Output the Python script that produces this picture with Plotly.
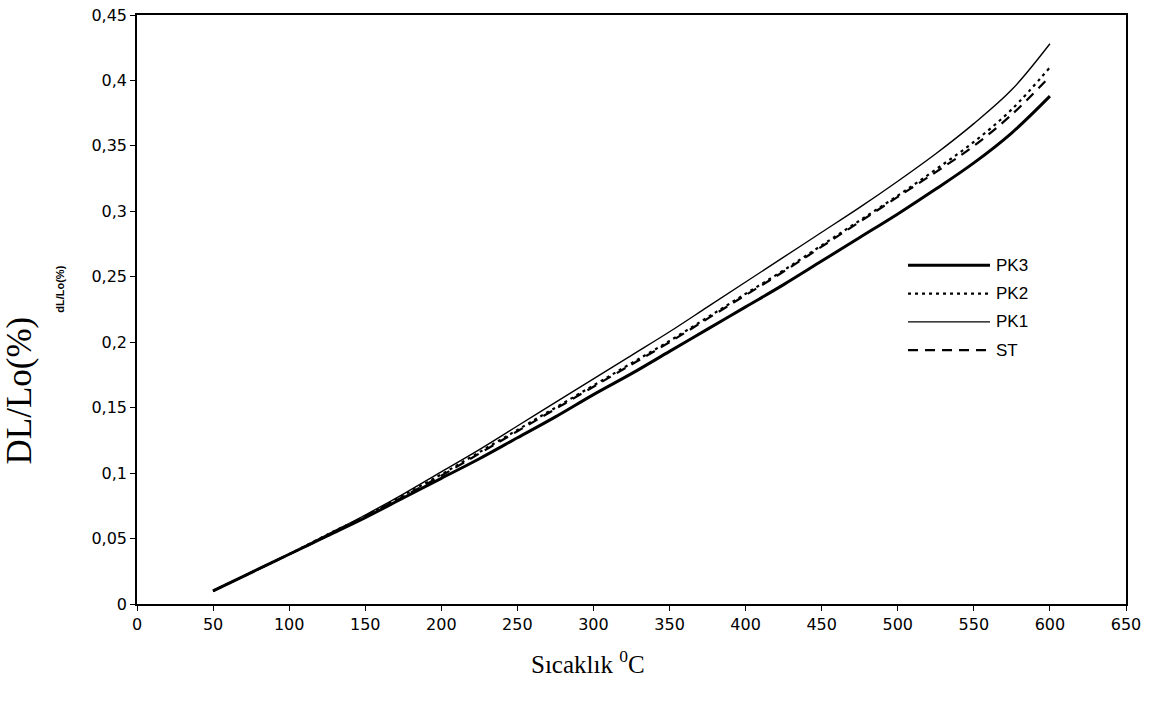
import plotly.graph_objects as go

temperature = [50, 75, 100, 125, 150, 175, 200, 225, 250, 275, 300, 325, 350,
               375, 400, 425, 450, 475, 500, 525, 550, 575, 600]

pk3 = [0.010, 0.024, 0.038, 0.052, 0.066, 0.081, 0.096, 0.111, 0.127, 0.143,
       0.160, 0.176, 0.193, 0.210, 0.227, 0.244, 0.262, 0.280, 0.298, 0.317,
       0.337, 0.360, 0.388]
pk2 = [0.010, 0.024, 0.038, 0.053, 0.067, 0.083, 0.099, 0.116, 0.133, 0.150,
       0.167, 0.184, 0.201, 0.219, 0.237, 0.255, 0.274, 0.293, 0.312, 0.332,
       0.353, 0.378, 0.410]
pk1 = [0.010, 0.024, 0.038, 0.053, 0.068, 0.084, 0.101, 0.118, 0.136, 0.154,
       0.172, 0.190, 0.208, 0.227, 0.246, 0.265, 0.284, 0.303, 0.323, 0.344,
       0.367, 0.393, 0.428]
st = [0.010, 0.024, 0.038, 0.052, 0.067, 0.082, 0.098, 0.115, 0.132, 0.149,
      0.166, 0.183, 0.200, 0.218, 0.236, 0.254, 0.273, 0.292, 0.311, 0.330,
      0.350, 0.374, 0.403]

series_names = ["PK3", "PK2", "PK1", "ST"]
x_ticks = [0, 50, 100, 150, 200, 250, 300, 350, 400, 450, 500, 550, 600, 650]
y_ticks = [0, 0.05, 0.1, 0.15, 0.2, 0.25, 0.3, 0.35, 0.4, 0.45]
y_tick_text = ["0", "0,05", "0,1", "0,15", "0,2", "0,25", "0,3", "0,35", "0,4", "0,45"]

styles = [
    dict(color="black", width=3.0, dash="solid"),
    dict(color="black", width=2.2, dash="3px,4px"),
    dict(color="black", width=1.4, dash="solid"),
    dict(color="black", width=2.2, dash="10px,7px"),
]

fig = go.Figure()
for name, ys, line in zip(series_names, [pk3, pk2, pk1, st], styles):
    fig.add_trace(go.Scatter(x=temperature, y=ys, mode="lines", name=name,
                             line=dict(shape="spline", **line), showlegend=False))

# Manual legend (paper coordinates)
legend_shapes = []
legend_annots = []
leg_y0 = 0.575
leg_step = 0.048
for i, (name, line) in enumerate(zip(series_names, styles)):
    yy = leg_y0 - i * leg_step
    legend_shapes.append(dict(type="line", xref="paper", yref="paper",
                              x0=0.7796, x1=0.8625, y0=yy, y1=yy,
                              line=dict(color="black", width=line["width"], dash=line["dash"])))
    legend_annots.append(dict(text=name, xref="paper", yref="paper", x=0.8665, y=yy,
                              xanchor="left", yanchor="middle", showarrow=False,
                              font=dict(family="Liberation Sans, Arial", size=17, color="black")))

axis_common = dict(showline=True, linecolor="black", linewidth=1.5, mirror=True,
                   ticks="outside", ticklen=5, tickcolor="black", tickwidth=1,
                   showgrid=False, zeroline=False, automargin=False,
                   tickfont=dict(family="DejaVu Sans", size=16, color="black"))

fig.update_layout(
    width=1158, height=703,
    margin=dict(l=137, r=32, t=15, b=99),
    paper_bgcolor="white", plot_bgcolor="white",
    xaxis=dict(range=[0, 650], tickvals=x_ticks, **axis_common),
    yaxis=dict(range=[0, 0.45], tickvals=y_ticks, ticktext=y_tick_text, **axis_common),
    showlegend=False,
    shapes=legend_shapes,
    annotations=[
        dict(text="DL/Lo(%)", xref="paper", yref="paper", x=-0.119, y=0.363,
             xanchor="center", yanchor="middle", textangle=-90, showarrow=False,
             font=dict(family="Liberation Serif, Times New Roman", size=35, color="black")),
        dict(text="<b>dL/Lo(%)</b>", xref="paper", yref="paper", x=-0.078, y=0.535,
             xanchor="center", yanchor="middle", textangle=-90, showarrow=False,
             font=dict(family="Liberation Sans, Arial", size=11, color="black")),
        dict(text="Sıcaklık <sup>0</sup>C", xref="paper", yref="paper", x=0.456, y=-0.098,
             xanchor="center", yanchor="middle", showarrow=False,
             font=dict(family="Liberation Serif, Times New Roman", size=25, color="black")),
    ] + legend_annots,
)

fig.write_html("out.html", config={"displayModeBar": False},
               post_script="document.body.style.margin='0px';")
